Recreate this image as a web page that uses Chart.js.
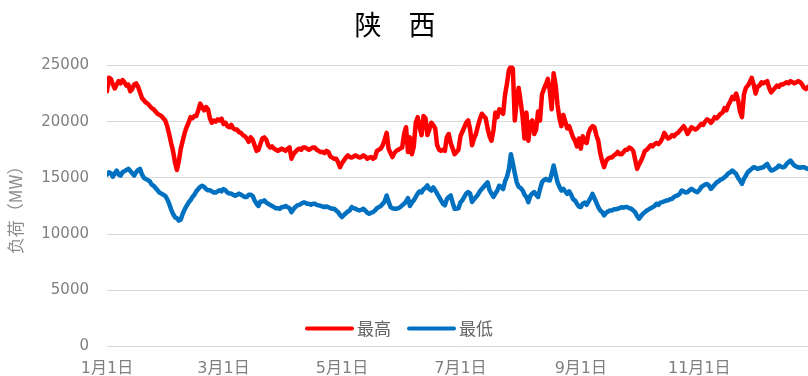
<!DOCTYPE html>
<html lang="zh-CN">
<head>
<meta charset="utf-8">
<title>陕西 负荷</title>
<script src="https://cdn.jsdelivr.net/npm/chart.js@4.4.1/dist/chart.umd.min.js"></script>
<style>
  html, body { margin: 0; padding: 0; background: #fff; }
  #wrap { width: 808px; height: 376px; overflow: hidden; }
</style>
</head>
<body>
<div id="wrap"><canvas id="loadChart" width="808" height="376"></canvas></div>
<script>
// 陕西 日最高/最低负荷 (MW)，按日排列，1月1日起
var monthDays = [31, 29, 31, 30, 31, 30, 31, 31, 30, 31, 30, 31];
var tickMonths = [1, 3, 5, 7, 9, 11];
var seriesNames = ['最高', '最低'];

var maxLoad = [
    22700, 23900, 23800, 23300, 22950, 23300, 23600, 23400, 23700, 23500,
    23200, 23300, 22700, 22900, 23300, 23400, 23100, 22600, 22100, 21900,
    21700, 21600, 21400, 21200, 21100, 20900, 20700, 20600, 20500, 20300,
    20100, 19600, 18900, 18100, 17400, 16400, 15700, 16500, 17600, 18300,
    19000, 19500, 19900, 20400, 20300, 20500, 20500, 21000, 21600, 21300,
    21000, 21300, 21100, 20300, 19900, 20100, 20000, 20200, 20100, 20260,
    19800, 19900, 19600, 19500, 19700, 19400, 19300, 19300, 19070, 19000,
    18800, 18700, 18500, 18200, 18600, 18400, 17900, 17400, 17500, 18000,
    18500, 18600, 18400, 17900, 17700, 17800, 17600, 17500, 17400, 17500,
    17600, 17500, 17400, 17600, 17700, 16700, 17100, 17300, 17500, 17600,
    17500, 17700, 17700, 17600, 17500, 17600, 17700, 17700, 17500, 17400,
    17300, 17300, 17200, 17400, 17300, 16900, 16800, 16700, 16700, 16400,
    15950, 16300, 16550, 16800, 17000, 16850, 16800, 16900, 17000, 16900,
    16800, 16850, 17000, 16900, 16700, 16800, 16850, 16700, 16800, 17400,
    17500, 17600, 17900, 18400, 19000, 17600, 17200, 16850, 17200, 17400,
    17500, 17600, 17700, 18900, 19500, 17300, 18600, 17100, 17800, 19900,
    20400, 19500, 18800, 20500, 20300, 18800, 19300, 19900, 19700, 19400,
    17900, 17500, 17400, 17500, 17400, 18600, 18900, 18100, 17600, 17100,
    17300, 17500, 18700, 19100, 19500, 19900, 20100, 19300, 17900, 18500,
    18900, 19600, 20200, 20700, 20500, 20300, 19400, 18700, 18300, 19200,
    20800, 20400, 21100, 20900, 20700, 22400, 23400, 24600, 24900, 24700,
    20100, 21800, 23000, 21800, 20500, 18500, 20800, 18300, 19900, 20100,
    18900, 19300, 20900, 20100, 22400, 22900, 23300, 23800, 22800, 21100,
    24300, 23300, 21500, 20300, 19600, 20600, 20000, 19400, 19600, 19100,
    18600, 18300, 17800, 18500, 17600, 18700, 18200, 18100, 19000, 19400,
    19600, 19500, 18800, 18300, 17200, 16500, 15950, 16500, 16700, 16800,
    16800, 17000, 17100, 17300, 17100, 17100, 17300, 17500, 17500, 17700,
    17600, 17400, 16600, 15800, 16200, 16500, 16900, 17400, 17500, 17700,
    17900, 17800, 18000, 18100, 18000, 18200, 18500, 19000, 18700, 18500,
    18600, 18800, 18700, 18900, 19000, 19200, 19400, 19600, 19300, 18900,
    19200, 19500, 19400, 19300, 19400, 19600, 19800, 19700, 20000, 20200,
    20100, 19900, 20100, 20400, 20300, 20500, 20700, 20800, 21200, 21000,
    21500, 21800, 22200, 22000, 22500, 21900, 20900, 20400, 22400, 23000,
    23200, 23500, 23900, 23300, 22500, 23100, 23200, 23500, 23400, 23500,
    23600, 23000, 22600, 22800, 23000, 23200, 23100, 23300, 23300, 23400,
    23500, 23400, 23600, 23500, 23400, 23500, 23600, 23500, 23300, 23000,
    22900, 23100, 23300, 23400, 23200, 23300
];

var minLoad = [
    15300, 15500, 15400, 15100, 15400, 15650, 15300, 15200, 15500, 15600,
    15700, 15800, 15600, 15400, 15200, 15500, 15700, 15800, 15300, 15000,
    14900, 14800, 14700, 14400, 14300, 14100, 13900, 13700, 13600, 13500,
    13400, 13100, 12700, 12200, 11800, 11500, 11400, 11200, 11300, 11800,
    12200, 12500, 12800, 13000, 13300, 13500, 13800, 14000, 14200, 14300,
    14200, 14000, 13900, 13900, 13800, 13700, 13700, 13800, 13900, 13800,
    14000, 13900, 13700, 13600, 13600, 13500, 13400, 13500, 13600, 13500,
    13400, 13300, 13300, 13500, 13500, 13400, 13000, 12700, 12500, 12900,
    12900, 13000, 12800, 12700, 12600, 12500, 12400, 12300, 12300, 12250,
    12400, 12400, 12500, 12400, 12300, 11950, 12200, 12400, 12550, 12600,
    12700, 12800, 12800, 12700, 12700, 12600, 12700, 12700, 12600, 12550,
    12500, 12450, 12400, 12450, 12400, 12300, 12250, 12250, 12100, 11950,
    11700, 11510, 11700, 11850, 12000, 12100, 12400, 12300, 12250, 12150,
    12100, 12150, 12250, 12100, 11900, 11810, 11900, 11950, 12100, 12300,
    12400, 12500, 12700, 12900, 13430, 12900, 12400, 12300, 12250, 12250,
    12300, 12400, 12550, 12700, 12900, 13200, 12500, 12800, 13000, 13300,
    13600, 13800, 13700, 14000, 14100, 14320, 14000, 13870, 14150, 13900,
    13600, 13300, 13000, 12700, 12550, 13100, 13300, 13430, 12800, 12250,
    12250, 12300, 12800, 13000, 13300, 13600, 13730, 13600, 12850, 13100,
    13300, 13500, 13800, 14000, 14200, 14400, 14600, 13900, 13600, 13300,
    13600, 13870, 14300, 14200, 14000, 14700, 15100, 15800, 17100, 16300,
    15400, 14600, 14200, 14100, 13900, 13500, 13300, 12840, 13400, 13600,
    13730, 13500, 13300, 14000, 14600, 14800, 14910, 14800, 14760, 15350,
    16100, 15350, 14610, 14200, 13870, 14020, 13800, 13580, 13800, 13500,
    13100, 13000, 12700, 12450, 12400, 12700, 12800, 12600, 12900, 13200,
    13580, 13200, 12800, 12400, 12100, 11950, 11660, 11900, 12000, 12100,
    12100, 12200, 12200, 12250, 12300, 12400, 12350, 12400, 12400, 12300,
    12250, 12100, 11950, 11600, 11370, 11600, 11800, 11950, 12100, 12200,
    12300, 12400, 12500, 12700, 12600, 12800, 12840, 12900, 12990, 13000,
    13100, 13130, 13300, 13400, 13450, 13600, 13870, 13800, 13700, 13730,
    13900, 14020, 13900, 13800, 13730, 13900, 14170, 14300, 14400, 14460,
    14300, 14020, 14200, 14400, 14610, 14700, 14850, 14910, 15050, 15200,
    15400, 15500, 15650, 15500, 15350, 15000, 14760, 14470, 14900, 15200,
    15500, 15650, 15800, 15940, 15900, 15800, 15850, 15900, 15940, 16100,
    16240, 15900, 15650, 15700, 15800, 15900, 16090, 16000, 15940, 16000,
    16240, 16400, 16530, 16300, 16090, 16000, 15940, 15900, 15950, 15940,
    15850, 15800, 15900, 16000, 15900, 15950
];

// 日期标签 “M月D日”
var dayLabels = [];
var tickIndex = {};
monthDays.forEach(function(n, m) {
    for (var d = 1; d <= n; d++) {
        if (d === 1 && tickMonths.indexOf(m + 1) >= 0) tickIndex[dayLabels.length] = true;
        dayLabels.push((m + 1) + '月' + d + '日');
    }
});

var axisFont = "'DejaVu Sans', 'Noto Sans CJK SC', sans-serif";
var cjkFont = "'Noto Sans CJK SC', sans-serif";

// 图例画在绘图区下方内部
var plotLegend = {
    id: 'plotLegend',
    afterDraw: function(chart) {
        var ctx = chart.ctx, area = chart.chartArea;
        var y = area.bottom - 18;
        var lineLen = 45, gap = 5, spacing = 18;
        ctx.save();
        ctx.font = '17px ' + cjkFont;
        ctx.textBaseline = 'middle';
        var items = chart.data.datasets.map(function(ds) {
            return { text: ds.label, color: ds.borderColor, w: ctx.measureText(ds.label).width };
        });
        var total = spacing * (items.length - 1);
        items.forEach(function(it) { total += lineLen + gap + it.w; });
        var x = chart.width / 2 - 4 - total / 2;
        items.forEach(function(it) {
            ctx.strokeStyle = it.color;
            ctx.lineWidth = 4;
            ctx.lineCap = 'round';
            ctx.beginPath();
            ctx.moveTo(x, y);
            ctx.lineTo(x + lineLen, y);
            ctx.stroke();
            x += lineLen + gap;
            ctx.fillStyle = '#666';
            ctx.fillText(it.text, x, y);
            x += it.w + spacing;
        });
        ctx.restore();
    }
};

new Chart(document.getElementById('loadChart').getContext('2d'), {
    type: 'line',
    data: {
        labels: dayLabels,
        datasets: [
            { label: seriesNames[0], data: maxLoad, borderColor: '#ff0000', backgroundColor: '#ff0000' },
            { label: seriesNames[1], data: minLoad, borderColor: '#0070c0', backgroundColor: '#0070c0' }
        ]
    },
    options: {
        responsive: false, animation: false, devicePixelRatio: 1,
        layout: { padding: { left: -18, right: 0, top: 0, bottom: 0 } },
        elements: {
            point: { radius: 0, hoverRadius: 0 },
            line: { borderWidth: 4.5, tension: 0, borderJoinStyle: 'round', borderCapStyle: 'round' }
        },
        scales: {
            x: {
                min: 0, max: 361,
                grid: { display: false },
                border: { display: false },
                ticks: {
                    autoSkip: false, maxRotation: 0, padding: 5,
                    color: '#7f7f7f', font: { family: axisFont, size: 16 },
                    callback: function(v, i) { return tickIndex[i] ? dayLabels[i] : null; }
                },
                afterFit: function(scale) { scale.height = 29.5; }
            },
            y: {
                min: 0, max: 25000,
                ticks: {
                    stepSize: 5000, padding: 18, color: '#7f7f7f',
                    font: { family: axisFont, size: 15 },
                    callback: function(v) { return String(v); }
                },
                grid: { color: '#d9d9d9', lineWidth: 1, drawTicks: false },
                border: { display: false },
                title: {
                    display: true, text: '负荷（MW）', color: '#8c8c8c',
                    font: { family: cjkFont, size: 17 }, padding: { top: 23, bottom: 0 }
                },
                afterFit: function(scale) { scale.width = 125; }
            }
        },
        plugins: {
            title: {
                display: true, text: '陕\u3000西', color: '#000',
                font: { family: cjkFont, size: 27, weight: 'normal' },
                padding: { top: 9, bottom: 24 }
            },
            legend: { display: false },
            tooltip: { enabled: false }
        }
    },
    plugins: [plotLegend]
});
</script>
</body>
</html>
